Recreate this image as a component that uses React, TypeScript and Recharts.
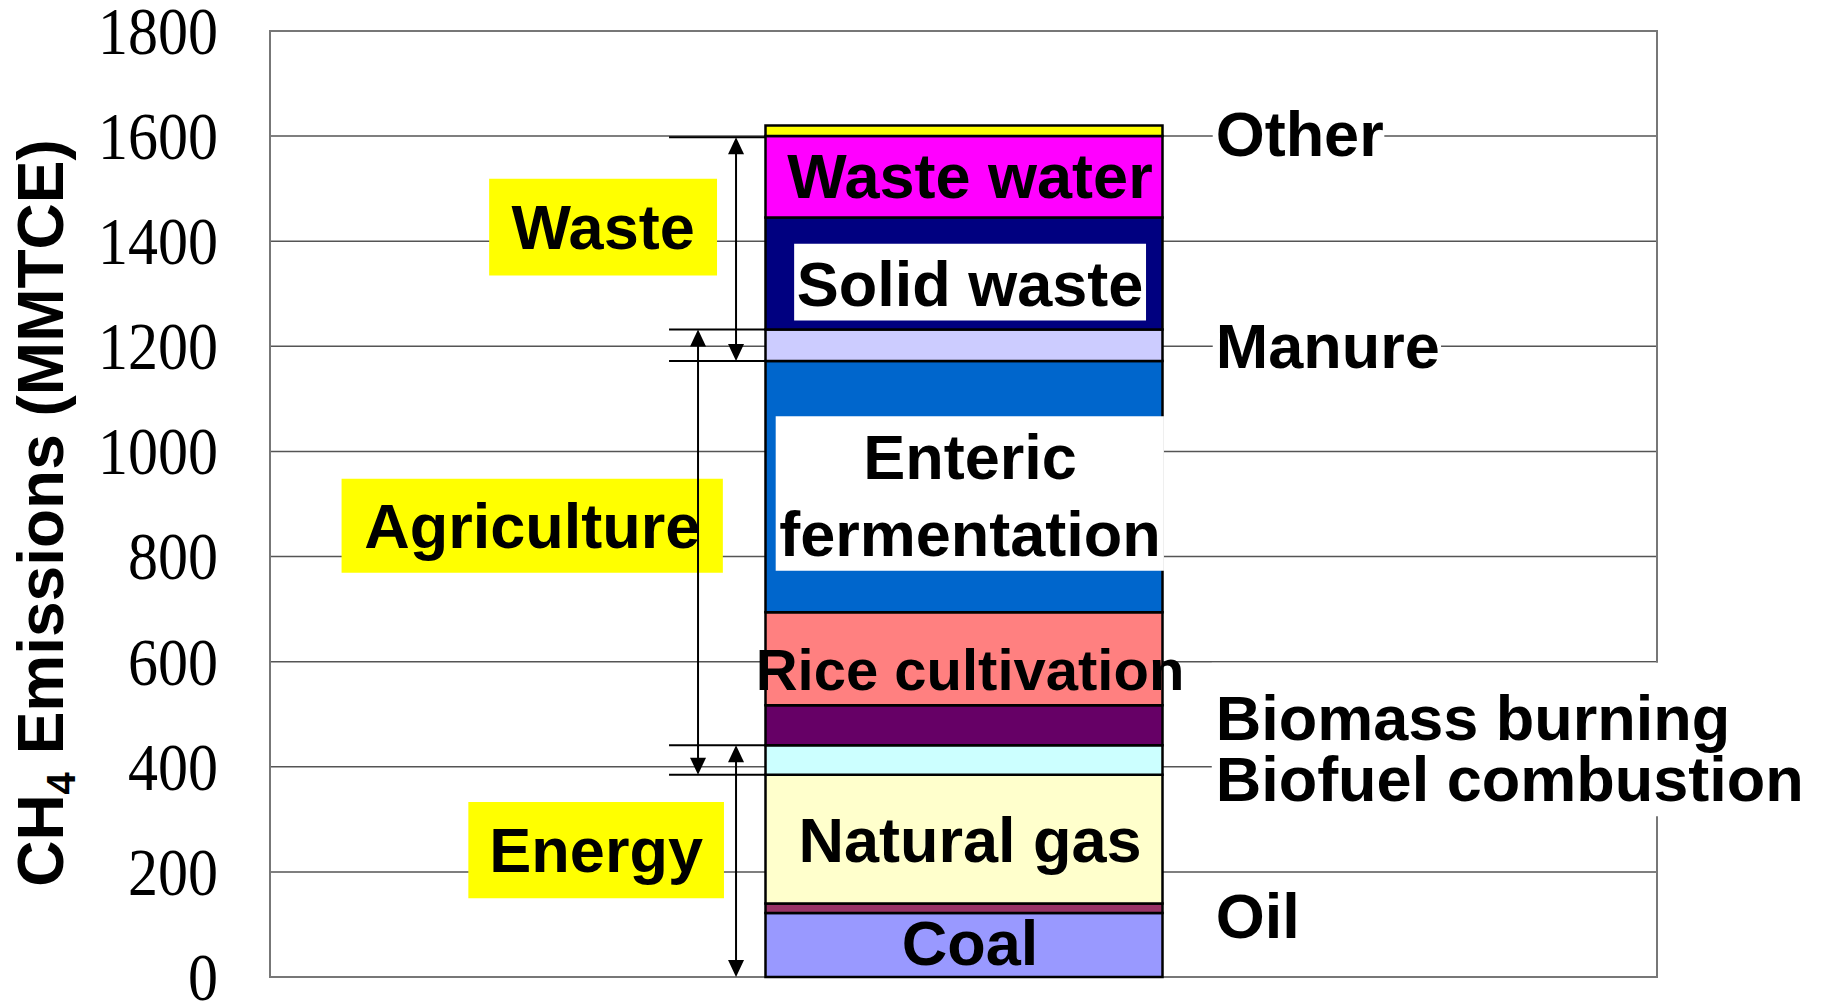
import React from 'react';
import { BarChart, Bar, XAxis, YAxis, CartesianGrid, ReferenceArea, ReferenceLine, ReferenceDot } from 'recharts';

// one stacked column, sources from bottom to top (MMTCE)
const categories = ['CH4'];
const sourceKeys = ['coal', 'oil', 'naturalGas', 'biofuel', 'biomass', 'rice', 'enteric', 'manure', 'solidWaste', 'wasteWater', 'other'];
const sourceNames = ['Coal', 'Oil', 'Natural gas', 'Biofuel combustion', 'Biomass burning', 'Rice cultivation', 'Enteric fermentation', 'Manure', 'Solid waste', 'Waste water', 'Other'];
const sourceValues = [122, 18, 245, 56, 76, 177, 478, 60, 213, 155, 20];
const yTicks = [0, 200, 400, 600, 800, 1000, 1200, 1400, 1600, 1800];

const sourceColors = ['#9999FF', '#993366', '#FFFFCC', '#CCFFFF', '#660066', '#FF8080', '#0066CC', '#CCCCFF', '#000080', '#FF00FF', '#FFFF00'];

// the x axis runs 0-100 across the plot; the column sits in the middle
const columnX = 50;

const chartData = categories.map(name => {
  const row: Record<string, any> = { name, pos: columnX };
  sourceKeys.forEach((k, i) => { row[k] = sourceValues[i]; });
  return row;
});

// annotation layout: x on the 0-100 axis, y in MMTCE
const groupBoxes = [
  { label: 'Waste', x1: 15.8, x2: 32.23, y1: 1335, y2: 1519 },
  { label: 'Agriculture', x1: 5.16, x2: 32.65, y1: 769, y2: 948 },
  { label: 'Energy', x1: 14.3, x2: 32.73, y1: 150, y2: 333 },
];
const groupArrows = [
  { x: 33.6, from: 1172, to: 1598 },
  { x: 30.86, from: 385, to: 1232 },
  { x: 33.6, from: 0, to: 441 },
];
const bracketLevels = [1598, 1232, 1172, 441, 385];
const bracketFrom = 28.77;
const bracketTo = 35.69;

const whiteBoxes = [
  { x1: 37.79, x2: 63.16, y1: 1249, y2: 1395 },
  { x1: 36.46, x2: 64.45, y1: 773, y2: 1067 },
  { x1: 67.97, x2: 80.34, y1: 1570, y2: 1640 },
  { x1: 67.97, x2: 84.43, y1: 1168, y2: 1238 },
  { x1: 67.9, x2: 111.2, y1: 306, y2: 598 },
];
const barTexts = [
  { text: 'Waste water', y: 1524, size: 63 },
  { text: 'Solid waste', y: 1319, size: 63 },
  { text: 'Enteric', y: 990, size: 63 },
  { text: 'fermentation', y: 844, size: 63 },
  { text: 'Rice cultivation', y: 586, size: 58 },
  { text: 'Natural gas', y: 262, size: 63 },
  { text: 'Coal', y: 65, size: 63 },
];
const barTextX = 50.47;
const sideTexts = [
  { text: 'Other', y: 1605 },
  { text: 'Manure', y: 1202 },
  { text: 'Biomass burning', y: 493 },
  { text: 'Biofuel combustion', y: 377 },
  { text: 'Oil', y: 117 },
];
const sideTextX = 68.18;

const SANS = 'Liberation Sans, Arial, sans-serif';

const ArrowShape = (props: any) => {
  const { x1, y1, x2, y2 } = props;
  const top = Math.min(y1, y2);
  const bot = Math.max(y1, y2);
  return (
    <g>
      <line x1={x1} y1={top + 4} x2={x2} y2={bot - 4} stroke="#000" strokeWidth={2} />
      <polygon points={`${x1},${top} ${x1 - 8},${top + 17} ${x1 + 8},${top + 17}`} fill="#000" />
      <polygon points={`${x1},${bot} ${x1 - 8},${bot - 17} ${x1 + 8},${bot - 17}`} fill="#000" />
    </g>
  );
};

// tick digits in the source are drawn a little taller than normal
const SerifTick = (props: any) => {
  const { x, y, payload } = props;
  return (
    <text
      transform={`translate(${x},${y}) scale(1,1.12)`}
      textAnchor="end"
      dy="0.34em"
      fontFamily="Liberation Serif, Times New Roman, serif"
      fontSize={60}
      fill="#000"
    >
      {payload.value}
    </text>
  );
};

const YTitle = (props: any) => {
  const { viewBox } = props;
  const cx = viewBox.x + 63;
  const cy = viewBox.y + viewBox.height / 2 + 9;
  return (
    <text transform={`translate(${cx},${cy}) rotate(-90)`} textAnchor="middle" fontFamily={SANS} fontWeight="bold" fontSize={64} fill="#000">
      CH<tspan fontSize={40} dy={12}>4</tspan><tspan dy={-12}> Emissions (MMTCE)</tspan>
    </text>
  );
};

const textStyle = { fill: '#000', fontWeight: 700, fontFamily: SANS };

const App: React.FC = () => {
  return (
    <div style={{ position: 'absolute', left: 0, top: 0, background: '#fff' }}>
      <BarChart width={1822} height={1006} data={chartData} margin={{ top: 31, right: 165, bottom: 29, left: 0 }}>
        <CartesianGrid vertical={false} stroke="#555" strokeWidth={1.5} />
        <XAxis dataKey="pos" type="number" domain={[0, 100]} hide allowDataOverflow />
        <YAxis
          width={270}
          domain={[0, 1800]}
          ticks={yTicks}
          interval={0}
          axisLine={false}
          tickLine={false}
          tickSize={0}
          tickMargin={52}
          tick={<SerifTick />}
          label={{ content: <YTitle /> }}
        />
        {sourceKeys.map((k, i) => (
          <Bar
            key={k}
            dataKey={k}
            name={sourceNames[i]}
            stackId="ch4"
            fill={sourceColors[i]}
            stroke="#000"
            strokeWidth={2.5}
            barSize={397}
            isAnimationActive={false}
          />
        ))}
        <ReferenceArea x1={0} x2={100} y1={0} y2={1800} fill="none" stroke="#777" strokeWidth={2} fillOpacity={0} zIndex={50} />
        {groupBoxes.map(b => (
          <ReferenceArea
            key={b.label}
            x1={b.x1}
            x2={b.x2}
            y1={b.y1}
            y2={b.y2}
            fill="#FFFF00"
            fillOpacity={1}
            stroke="none"
            zIndex={150}
            label={{ value: b.label, position: 'center', fontSize: 63, ...textStyle }}
          />
        ))}
        {whiteBoxes.map((b, i) => (
          <ReferenceArea
            key={'w' + i}
            x1={b.x1}
            x2={b.x2}
            y1={b.y1}
            y2={b.y2}
            fill="#fff"
            fillOpacity={1}
            stroke="none"
            ifOverflow="visible"
            zIndex={700}
          />
        ))}
        {bracketLevels.map(v => (
          <ReferenceLine
            key={'b' + v}
            segment={[{ x: bracketFrom, y: v }, { x: bracketTo, y: v }]}
            stroke="#000"
            strokeWidth={2}
            zIndex={800}
          />
        ))}
        {groupArrows.map((a, i) => (
          <ReferenceLine
            key={'a' + i}
            segment={[{ x: a.x, y: a.to }, { x: a.x, y: a.from }]}
            shape={ArrowShape}
            zIndex={800}
          />
        ))}
        {barTexts.map(t => (
          <ReferenceDot
            key={t.text}
            x={barTextX}
            y={t.y}
            r={0}
            fill="none"
            stroke="none"
            zIndex={900}
            label={{ value: t.text, position: 'center', fontSize: t.size, ...textStyle }}
          />
        ))}
        {sideTexts.map(t => (
          <ReferenceDot
            key={t.text}
            x={sideTextX}
            y={t.y}
            r={0}
            fill="none"
            stroke="none"
            zIndex={900}
            label={{ value: t.text, position: 'right', offset: 0, fontSize: 63, ...textStyle }}
          />
        ))}
      </BarChart>
    </div>
  );
};

export default App;
